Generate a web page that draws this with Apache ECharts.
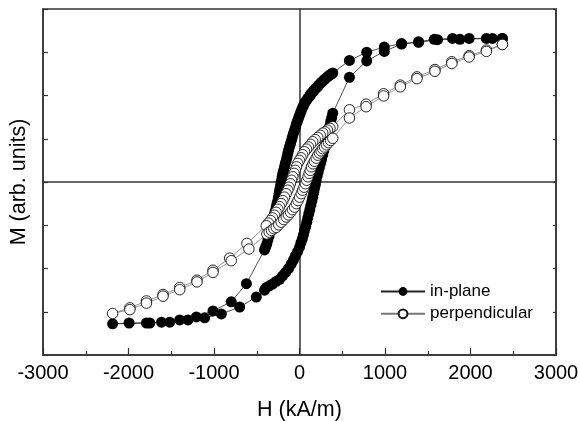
<!DOCTYPE html>
<html><head><meta charset="utf-8">
<script src="https://cdn.jsdelivr.net/npm/echarts@6/dist/echarts.min.js"></script>
<style>html,body{margin:0;padding:0;background:#fff}#c{width:580px;height:421px}</style>
</head><body><div id="c"></div>
<script>
// Axis settings
const xMin = -3000, xMax = 3000, xStep = 1000;
const yMin = -4, yMax = 4, yStep = 1;
const xTitle = 'H (kA/m)';
const yTitle = 'M (arb. units)';
const seriesNames = ['in-plane', 'perpendicular'];

// in-plane: descending branch [H, M]
const ipDescending = [
[2373,3.32],[2186,3.32],[1984,3.32],[1790,3.32],[1576,3.30],[1393,3.24],[1194,3.20],[992,3.12],[786,3.00],[584,2.81],
[389,2.52],[367,2.49],[344,2.46],[327,2.43],[312,2.41],[292,2.37],[272,2.33],[254,2.30],[239,2.27],[226,2.24],
[214,2.21],[198,2.18],[183,2.15],[169,2.12],[155,2.09],[144,2.06],[132,2.03],[124,2.00],[117,1.98],[100,1.94],
[85,1.90],[71,1.86],[58,1.82],[46,1.76],[33,1.71],[19,1.64],[6,1.57],[-7,1.50],[-20,1.43],[-33,1.36],
[-44,1.28],[-57,1.20],[-70,1.13],[-82,1.05],[-93,0.97],[-105,0.89],[-117,0.81],[-127,0.74],[-137,0.66],[-146,0.58],
[-155,0.50],[-166,0.43],[-175,0.35],[-186,0.27],[-195,0.20],[-203,0.12],[-210,0.04],[-218,-0.04],[-225,-0.12],[-232,-0.19],
[-239,-0.27],[-246,-0.35],[-253,-0.43],[-263,-0.50],[-272,-0.58],[-282,-0.66],[-292,-0.73],[-302,-0.81],[-312,-0.89],[-321,-0.97],
[-330,-1.05],[-343,-1.14],[-356,-1.24],[-369,-1.33],[-382,-1.43],[-395,-1.50],[-409,-1.57],
[-621,-2.35],[-798,-2.77],[-1012,-2.98],[-1206,-3.12],[-1401,-3.19],[-1614,-3.24],[-1790,-3.26],[-2186,-3.28]
];
// in-plane: ascending branch [H, M]
const ipAscending = [
[-1993,-3.26],[-1751,-3.26],[-1518,-3.24],[-1304,-3.19],[-1109,-3.14],[-914,-3.05],[-700,-2.89],[-505,-2.66],
[-409,-2.50],[-389,-2.44],[-353,-2.40],[-315,-2.36],[-274,-2.30],[-233,-2.25],[-198,-2.17],[-163,-2.09],[-128,-2.00],[-97,-1.90],
[-70,-1.80],[-47,-1.70],[-23,-1.61],[0,-1.51],[16,-1.41],[32,-1.32],[46,-1.22],[58,-1.12],[72,-1.03],[85,-0.93],
[97,-0.83],[109,-0.73],[121,-0.64],[133,-0.54],[145,-0.44],[155,-0.35],[166,-0.25],[175,-0.15],[186,-0.06],[195,0.04],
[207,0.14],[219,0.23],[232,0.33],[245,0.43],[258,0.52],[271,0.62],[284,0.72],[298,0.81],[309,0.91],[321,1.01],
[333,1.10],[344,1.20],[355,1.30],[365,1.40],[377,1.49],[389,1.59],
[584,2.42],[786,2.80],[992,3.02],[1194,3.19],[1393,3.23],[1614,3.29],[1876,3.30],[2256,3.32],[2373,3.32]
];
// perpendicular: descending branch [H, M]
const ppDescending = [
[2373,3.18],[2186,3.05],[1984,2.92],[1782,2.78],[1584,2.60],[1374,2.43],[1179,2.24],[984,2.04],[779,1.80],[584,1.67],
[389,1.28],[356,1.24],[327,1.20],[299,1.16],[272,1.13],[243,1.08],[214,1.03],[184,0.98],[155,0.93],[130,0.87],
[105,0.81],[82,0.76],[58,0.70],[37,0.63],[18,0.56],[-1,0.50],[-20,0.43],[-35,0.35],[-49,0.27],[-64,0.20],
[-78,0.12],[-93,0.04],[-107,-0.04],[-123,-0.12],[-137,-0.19],[-156,-0.27],[-175,-0.35],[-195,-0.43],[-214,-0.50],[-233,-0.57],
[-253,-0.63],[-273,-0.70],[-292,-0.77],[-315,-0.83],[-339,-0.89],[-364,-0.95],[-389,-1.01],
[-615,-1.42],[-817,-1.76],[-1012,-2.04],[-1199,-2.27],[-1401,-2.44],[-1596,-2.60],[-1790,-2.75],[-1984,-2.91],[-2186,-3.04]
];
// perpendicular: ascending branch [H, M]
const ppAscending = [
[-1984,-2.95],[-1790,-2.80],[-1596,-2.64],[-1401,-2.49],[-1199,-2.31],[-1012,-2.09],[-798,-1.82],[-592,-1.55],
[-382,-1.20],[-355,-1.16],[-327,-1.12],[-300,-1.08],[-272,-1.05],[-243,-0.99],[-214,-0.93],[-184,-0.87],[-155,-0.81],[-130,-0.76],
[-105,-0.70],[-82,-0.64],[-58,-0.58],[-37,-0.50],[-18,-0.43],[1,-0.35],[20,-0.27],[36,-0.19],[53,-0.12],[69,-0.04],
[85,0.04],[99,0.12],[113,0.20],[126,0.27],[140,0.35],[158,0.42],[175,0.48],[195,0.55],[214,0.62],[233,0.67],
[253,0.72],[272,0.77],[292,0.81],[315,0.86],[339,0.91],[364,0.96],[389,1.01],
[584,1.48],[779,1.74],[984,1.99],[1179,2.20],[1374,2.39],[1584,2.56],[1782,2.74],[1984,2.89],[2186,3.02],[2373,3.18]
];

const FONT = '"Liberation Sans", Arial, sans-serif';
const AX = '#333';
const chart = echarts.init(document.getElementById('c'), null, {renderer: 'canvas'});
chart.setOption({
  animation: false,
  backgroundColor: '#fff',
  textStyle: {fontFamily: FONT},
  grid: {left: 43, right: 24, top: 9, bottom: 66, show: true, borderColor: AX, borderWidth: 1.5,
         containLabel: false, outerBoundsMode: 'none'},
  legend: {
    data: seriesNames, orient: 'vertical', left: 380, top: 283, padding: 0,
    itemWidth: 44, itemHeight: 11, itemGap: 5.3,
    textStyle: {fontFamily: FONT, fontSize: 17, color: '#000', lineHeight: 17},
    selectedMode: false
  },
  xAxis: {
    type: 'value', min: xMin, max: xMax, interval: xStep,
    name: xTitle, nameLocation: 'middle', nameGap: 44,
    nameTextStyle: {fontFamily: FONT, fontSize: 21.5, color: '#000'},
    axisLine: {onZero: false, lineStyle: {color: AX, width: 1.5}},
    axisTick: {inside: true, length: 7, lineStyle: {color: AX, width: 1.2}},
    minorTick: {show: true, splitNumber: 2, length: 4, lineStyle: {color: AX, width: 1.2}},
    axisLabel: {fontFamily: FONT, fontSize: 20, color: '#000', margin: 8, formatter: v => String(v)},
    splitLine: {show: false}
  },
  yAxis: [{
    type: 'value', min: yMin, max: yMax, interval: yStep,
    name: yTitle, nameLocation: 'middle', nameGap: 13, nameRotate: 90,
    nameTextStyle: {fontFamily: FONT, fontSize: 21.5, color: '#000'},
    axisLine: {show: true, onZero: false, lineStyle: {color: AX, width: 1.5}},
    axisTick: {show: true, inside: true, length: 5, lineStyle: {color: AX, width: 1.2}},
    axisLabel: {show: false},
    splitLine: {show: false}
  }, {
    type: 'value', position: 'right', min: yMin, max: yMax, interval: yStep,
    axisLine: {show: true, onZero: false, lineStyle: {color: AX, width: 1.5}},
    axisTick: {show: true, inside: true, length: 3, lineStyle: {color: AX, width: 1.2}},
    axisLabel: {show: false},
    splitLine: {show: false}
  }],
  series: [{
    name: seriesNames[0], type: 'line', data: ipDescending.concat(ipAscending),
    symbol: 'circle', symbolSize: 11, showSymbol: true, z: 2,
    itemStyle: {color: '#000'},
    lineStyle: {color: '#222', width: 0.8},
    emphasis: {disabled: true},
    markLine: {
      silent: true, symbol: 'none', z: 1, animation: false,
      label: {show: false},
      lineStyle: {color: AX, width: 1.5, type: 'solid'},
      emphasis: {disabled: true},
      data: [{xAxis: 0}, {yAxis: 0}]
    }
  }, {
    name: seriesNames[1], type: 'line', data: ppDescending.concat(ppAscending),
    symbol: 'circle', symbolSize: 10.5, showSymbol: true, z: 3,
    itemStyle: {color: '#fff', borderColor: '#111', borderWidth: 0.9},
    lineStyle: {color: '#777', width: 0.8},
    emphasis: {disabled: true}
  }]
});
</script></body></html>
